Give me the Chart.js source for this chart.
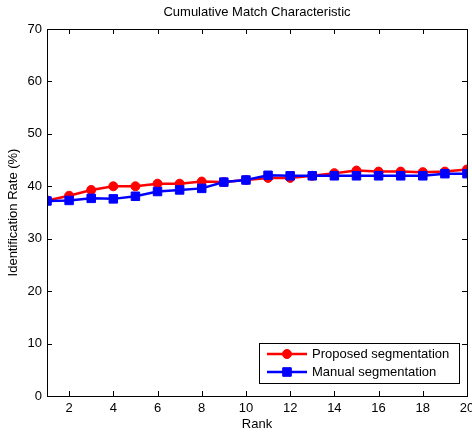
<!DOCTYPE html>
<html>
<head>
<meta charset="utf-8">
<script src="https://cdn.jsdelivr.net/npm/chart.js@4"></script>
<style>
  html, body { margin: 0; padding: 0; background: #fff; overflow: hidden; }
  #wrap { width: 472px; height: 433px; }
</style>
</head>
<body>
<div id="wrap"><canvas id="cmc"></canvas></div>
<script>
const ranks = [1, 2, 3, 4, 5, 6, 7, 8, 9, 10, 11, 12, 13, 14, 15, 16, 17, 18, 19, 20];
const proposed = [37.3, 38.2, 39.3, 40.0, 40.0, 40.5, 40.5, 40.9, 40.8, 41.2, 41.6, 41.6, 42.0, 42.5, 43.0, 42.8, 42.8, 42.7, 42.8, 43.2];
const manual = [37.2, 37.3, 37.7, 37.6, 38.1, 39.0, 39.3, 39.6, 40.8, 41.2, 42.1, 42.0, 42.0, 42.0, 42.0, 42.0, 42.0, 42.0, 42.4, 42.4];
const xTicks = [2, 4, 6, 8, 10, 12, 14, 16, 18, 20];
const yTicks = [0, 10, 20, 30, 40, 50, 60, 70];
const seriesNames = ['Proposed segmentation', 'Manual segmentation'];

const FONT = 'Liberation Sans, Arial, Helvetica, sans-serif';
Chart.defaults.font.family = FONT;
Chart.defaults.font.size = 13;
Chart.defaults.color = '#000';

// matlab style box, inward ticks on all four sides
const boxPlugin = {
  id: 'box',
  afterDatasetsDraw(chart) {
    const { ctx, chartArea: a, scales } = chart;
    ctx.save();
    ctx.strokeStyle = '#000';
    ctx.lineWidth = 1;
    ctx.beginPath();
    xTicks.forEach(v => {
      const px = Math.round(scales.x.getPixelForValue(v)) + 0.5;
      ctx.moveTo(px, a.bottom); ctx.lineTo(px, a.bottom - 5);
      ctx.moveTo(px, a.top); ctx.lineTo(px, a.top + 5);
    });
    yTicks.forEach(v => {
      const py = Math.round(scales.y.getPixelForValue(v)) + 0.5;
      ctx.moveTo(a.left, py); ctx.lineTo(a.left + 5, py);
      ctx.moveTo(a.right, py); ctx.lineTo(a.right - 5, py);
    });
    ctx.stroke();
    ctx.strokeRect(Math.round(a.left) + 0.5, Math.round(a.top) + 0.5,
      Math.round(a.right - a.left), Math.round(a.bottom - a.top));
    ctx.restore();
  }
};

// legend box in the lower right corner, line + marker samples
const legendPlugin = {
  id: 'cmcLegend',
  afterDraw(chart) {
    const { ctx, chartArea: a } = chart;
    const w = 200, h = 40;
    const x0 = a.right - 8 - w, y0 = a.bottom - 13 - h;
    ctx.save();
    ctx.fillStyle = '#fff';
    ctx.fillRect(x0, y0, w, h);
    ctx.strokeStyle = '#000';
    ctx.lineWidth = 1;
    ctx.strokeRect(x0 + 0.5, y0 + 0.5, w, h);
    chart.data.datasets.forEach((ds, i) => {
      const y = y0 + 11 + i * 18;
      ctx.strokeStyle = ds.borderColor;
      ctx.lineWidth = ds.borderWidth;
      ctx.beginPath();
      ctx.moveTo(x0 + 8, y); ctx.lineTo(x0 + 48, y);
      ctx.stroke();
      ctx.lineWidth = 1;
      Chart.helpers.drawPoint(ctx, {
        pointStyle: ds.pointStyle, radius: ds.pointRadius, borderWidth: 1
      }, x0 + 28, y);
      ctx.fillStyle = ds.borderColor;
      ctx.fill();
      ctx.fillStyle = '#000';
      ctx.font = '13px ' + FONT;
      ctx.textBaseline = 'middle';
      ctx.fillText(ds.label, x0 + 53, y + 0.5);
    });
    ctx.restore();
  }
};

new Chart(document.getElementById('cmc'), {
  type: 'line',
  data: {
    datasets: [
      {
        label: seriesNames[0],
        data: ranks.map((r, i) => ({ x: r, y: proposed[i] })),
        borderColor: '#ff0000',
        backgroundColor: '#ff0000',
        pointBackgroundColor: '#ff0000',
        pointBorderColor: '#ff0000',
        borderWidth: 2.5,
        pointBorderWidth: 1,
        pointStyle: 'circle',
        pointRadius: 4.5,
        tension: 0,
        order: 1
      },
      {
        label: seriesNames[1],
        data: ranks.map((r, i) => ({ x: r, y: manual[i] })),
        borderColor: '#0000ff',
        backgroundColor: '#0000ff',
        pointBackgroundColor: '#0000ff',
        pointBorderColor: '#0000ff',
        borderWidth: 2.5,
        pointBorderWidth: 1,
        pointStyle: 'rect',
        pointRadius: 6,
        tension: 0,
        order: 0
      }
    ]
  },
  options: {
    responsive: true,
    maintainAspectRatio: false,
    animation: false,
    layout: {
      autoPadding: false,
      padding: { left: 0, right: 5, top: 0, bottom: 0 }
    },
    plugins: {
      legend: { display: false },
      tooltip: { enabled: false },
      title: {
        display: true,
        fullSize: false,
        text: 'Cumulative Match Characteristic',
        color: '#000',
        font: { size: 13, weight: 'normal' },
        padding: { top: 5, bottom: 8.4 }
      }
    },
    scales: {
      x: {
        type: 'linear',
        min: 1,
        max: 20,
        afterBuildTicks: s => { s.ticks = xTicks.map(v => ({ value: v })); },
        afterFit: s => { s.height = 37; s.paddingLeft = 0; s.paddingRight = 0; },
        grid: { display: false, drawTicks: false },
        border: { display: false },
        ticks: { padding: 5, maxRotation: 0, autoSkip: false, color: '#000' },
        title: { display: true, text: 'Rank', color: '#000', font: { size: 13 }, padding: { top: 0, bottom: 1 } }
      },
      y: {
        min: 0,
        max: 70,
        afterBuildTicks: s => { s.ticks = yTicks.map(v => ({ value: v })); },
        afterFit: s => { s.width = 47; s.paddingTop = 0; s.paddingBottom = 0; },
        grid: { display: false, drawTicks: false },
        border: { display: false },
        ticks: { padding: 5, color: '#000' },
        title: { display: true, text: 'Identification Rate (%)', color: '#000', font: { size: 13 }, padding: { top: 6, bottom: 0 } }
      }
    }
  },
  plugins: [boxPlugin, legendPlugin]
});
</script>
</body>
</html>
